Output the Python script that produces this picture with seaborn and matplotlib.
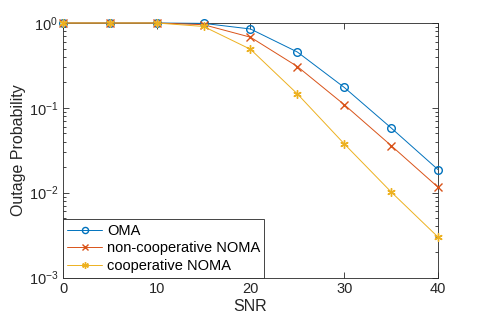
import matplotlib
matplotlib.use("Agg")
import matplotlib.pyplot as plt
import seaborn as sns
from matplotlib.ticker import LogLocator, NullFormatter, FixedLocator

snr = [0, 5, 10, 15, 20, 25, 30, 35, 40]
oma = [1.0, 1.0, 1.0, 0.99, 0.85, 0.455, 0.174, 0.058, 0.0187]
noma_noncoop = [1.0, 1.0, 1.0, 0.955, 0.68, 0.307, 0.109, 0.0359, 0.0116]
noma_coop = [1.0, 1.0, 1.0, 0.91, 0.49, 0.146, 0.0376, 0.0102, 0.0030]

series_labels = ["OMA", "non-cooperative NOMA", "cooperative NOMA"]
x_ticks = [0, 10, 20, 30, 40]

sns.set_theme(style="ticks")
plt.rcParams["font.family"] = ["Liberation Sans", "DejaVu Sans"]
axis_gray = "#262626"

fig = plt.figure(figsize=(4.85, 3.25), dpi=100)
ax = fig.add_axes([63 / 485, 1 - 277.5 / 325, 375 / 485, 254.5 / 325])

# MATLAB default colours, asterisk marker built as a 6-spoke star
colors = ["#0072BD", "#D95319", "#EDB120"]
styles = [
    dict(marker="o", markerfacecolor="none", markersize=5.5),
    dict(marker="x", markersize=5.5),
    dict(marker=(6, 2, 0), markersize=6),
]
for y, label, c, st in zip([oma, noma_noncoop, noma_coop], series_labels, colors, styles):
    sns.lineplot(x=snr, y=y, ax=ax, label=label, linewidth=0.7, color=c,
                 markeredgecolor=c, markeredgewidth=1.0, clip_on=False, zorder=3, **st)

ax.set_yscale("log")
ax.set_xlim(0, 40)
ax.set_ylim(1e-3, 1)
ax.xaxis.set_major_locator(FixedLocator(x_ticks))
ax.yaxis.set_major_locator(LogLocator(base=10, numticks=10))
ax.yaxis.set_minor_locator(LogLocator(base=10, subs=range(2, 10), numticks=20))
ax.yaxis.set_minor_formatter(NullFormatter())

ax.tick_params(which="both", direction="in", top=True, right=True,
               colors=axis_gray, labelsize=10.5, width=0.6)
ax.tick_params(which="major", length=4)
ax.tick_params(which="minor", length=2)
for s in ax.spines.values():
    s.set_visible(True)
    s.set_color(axis_gray)
    s.set_linewidth(0.6)

ax.set_xlabel("SNR", fontsize=11.5, color=axis_gray, labelpad=2)
ax.set_ylabel("Outage Probability", fontsize=11.5, color=axis_gray, labelpad=2)

leg = ax.legend(loc="lower left", fontsize=10.5, frameon=True, fancybox=False,
                borderaxespad=0, handlelength=2.4, handletextpad=0.3,
                borderpad=0.3, labelspacing=0.25, markerscale=0.8)
leg.get_frame().set_edgecolor(axis_gray)
leg.get_frame().set_linewidth(0.6)
leg.get_frame().set_alpha(1)
leg.set_zorder(5)
for t in leg.get_texts():
    t.set_color("black")

fig.savefig("out.png", dpi=100)
